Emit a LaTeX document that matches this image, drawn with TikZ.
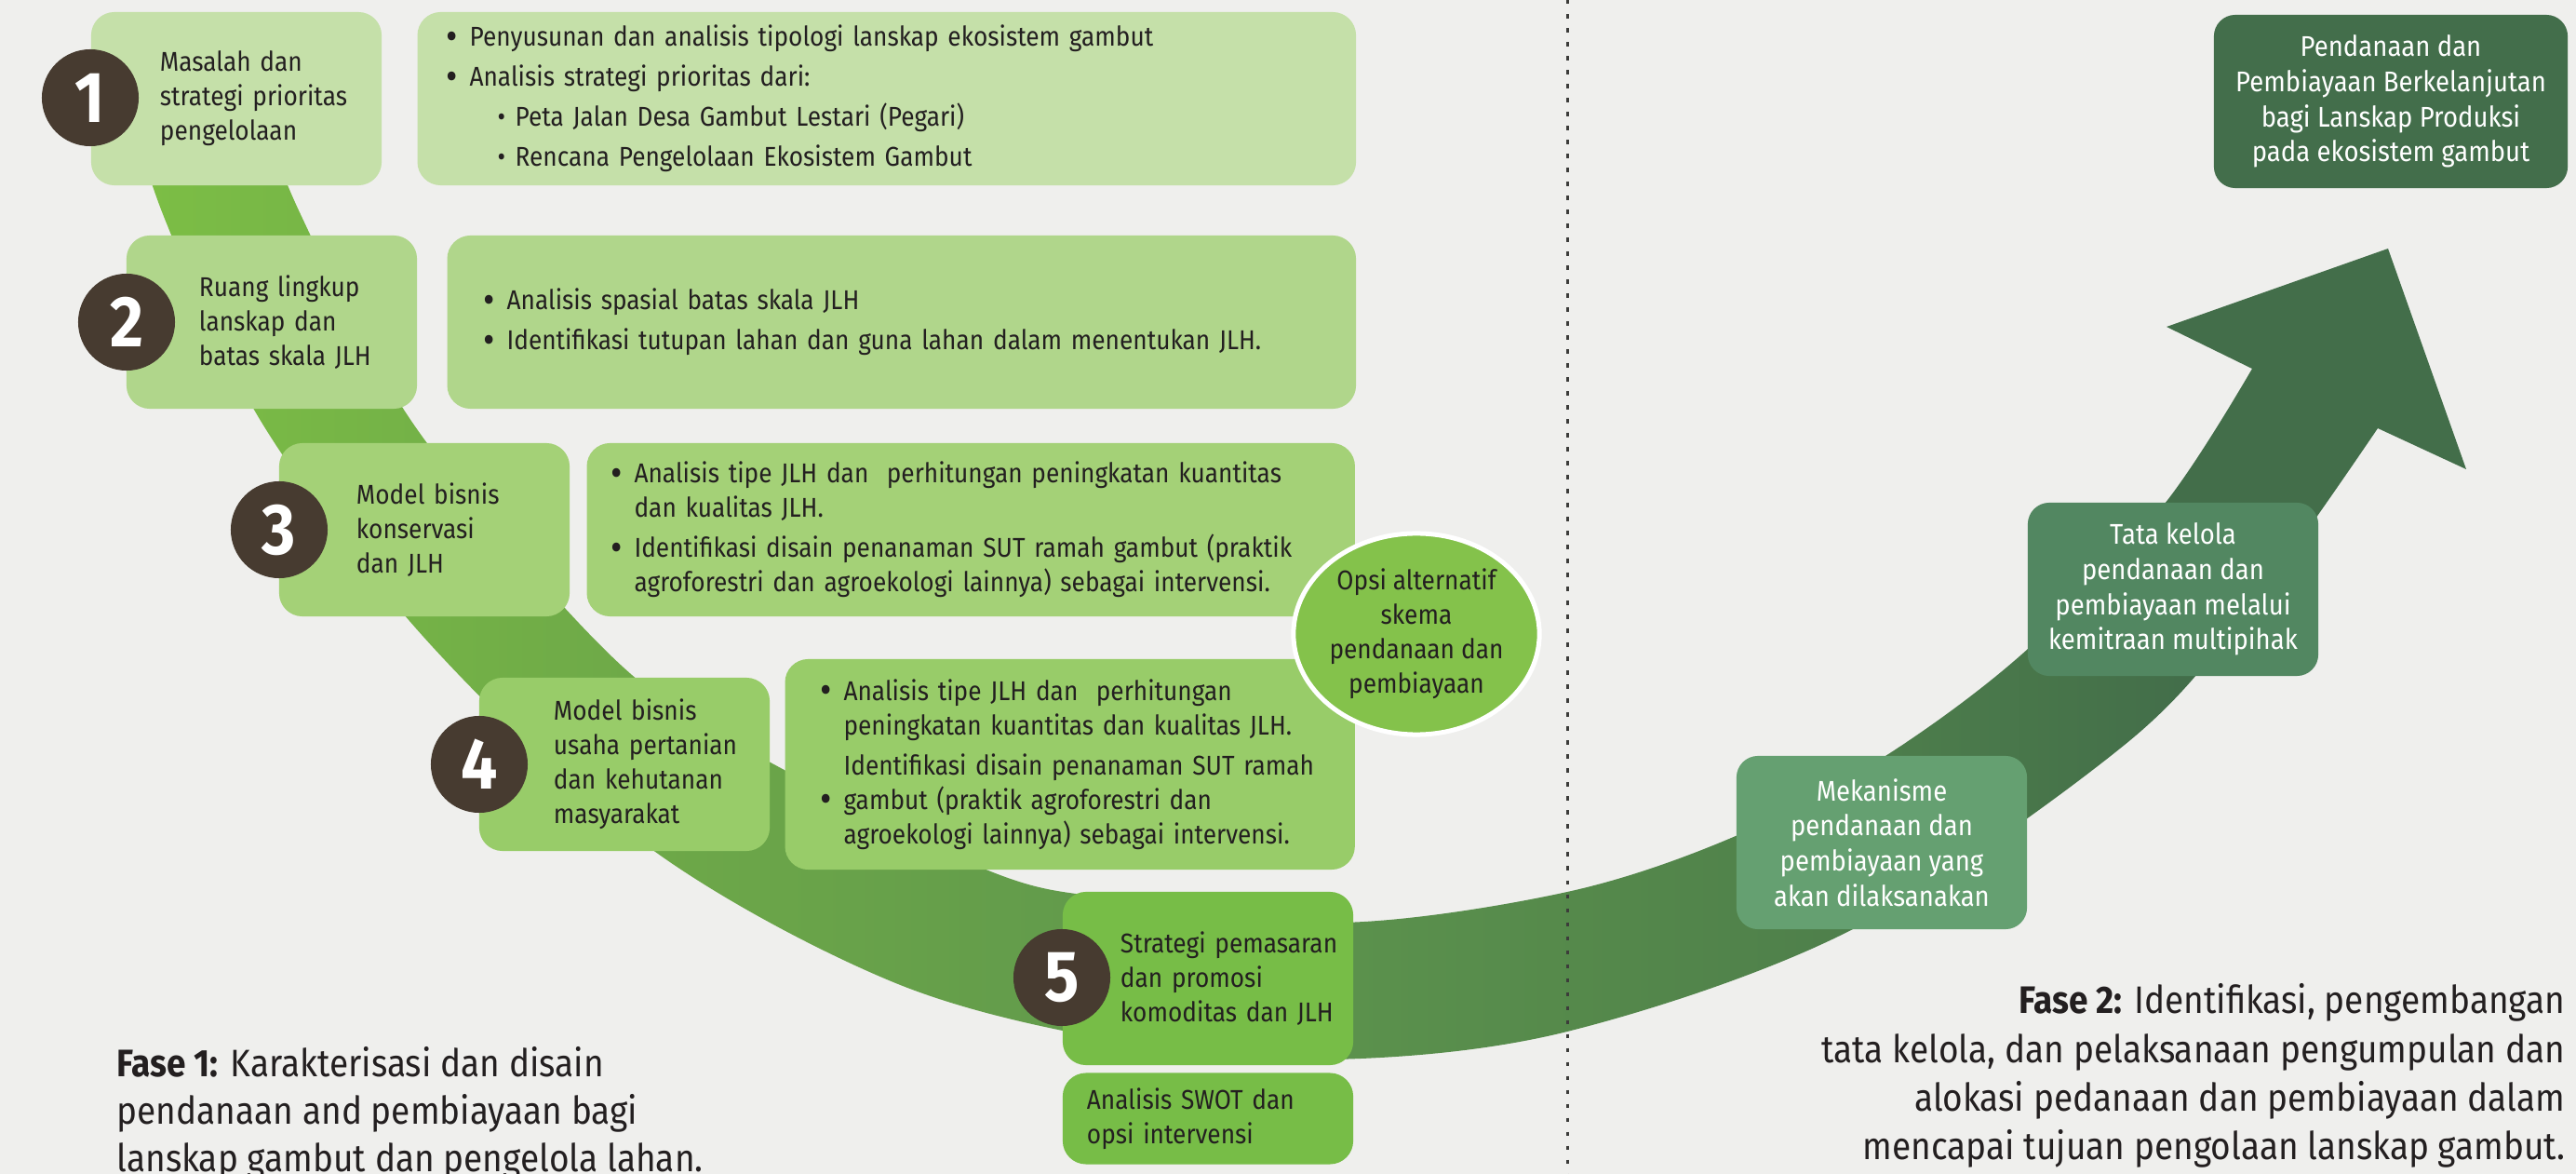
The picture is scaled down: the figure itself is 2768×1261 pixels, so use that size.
\documentclass[tikz,border=0pt]{standalone}
\usepackage{fontspec}
\setmainfont{Fira Sans}[FakeStretch=0.9]
\usepackage{xcolor}
\usepackage{graphicx}
\usepackage{tikz}
\usetikzlibrary{positioning, shapes.geometric}

\definecolor{bgpaper}{HTML}{EFEFED}
\definecolor{ink}{HTML}{231F20}
\definecolor{numbrown}{HTML}{473B30}
\definecolor{stepA}{HTML}{C5E0A9}
\definecolor{stepB}{HTML}{B0D68B}
\definecolor{stepC}{HTML}{A4D177}
\definecolor{stepD}{HTML}{98CC69}
\definecolor{stepE}{HTML}{77BD47}
\definecolor{optgreen}{HTML}{84C24B}
\definecolor{fundA}{HTML}{65A071}
\definecolor{fundB}{HTML}{528761}
\definecolor{fundC}{HTML}{436E4B}
\definecolor{bandA}{HTML}{7DBF45}
\definecolor{bandB}{HTML}{6EA948}
\definecolor{bandC}{HTML}{5F974C}
\definecolor{bandD}{HTML}{4E7F4B}
\definecolor{bandE}{HTML}{436E4A}
\definecolor{divgray}{HTML}{3C3C3A}

\pgfdeclarehorizontalshading{bandfade}{100bp}{color(0bp)=(bandA); color(25bp)=(bandA); color(36bp)=(bandB); color(48bp)=(bandC); color(62bp)=(bandD); color(69bp)=(bandE); color(100bp)=(bandE)}

\newcommand{\dotitem}{\leavevmode\llap{\makebox[0.25cm][l]{\raisebox{-0.12em}{\scalebox{1.45}{\textbullet}}}}}
\newcommand{\dotsub}{\leavevmode\hspace*{0.49cm}\llap{\makebox[0.19cm][l]{\textbullet}}}

\tikzset{
  stage/.style={rectangle, fill=#1, rounded corners=0.25cm, text width=3.12cm, minimum height=1.86cm, inner xsep=0pt, align=left, text=ink, font=\fontsize{8.3}{10.5}\selectfont},
  detail/.style 2 args={rectangle, fill=#1, rounded corners=0.25cm, text width=#2, minimum height=1.86cm, inner xsep=0pt, align=left, text=ink, font=\fontsize{8.3}{10.5}\selectfont},
  badge/.style={circle, fill=numbrown, minimum size=1.04cm, inner sep=0pt, text=white, font=\fontsize{22}{22}\selectfont\bfseries},
  altopt/.style={ellipse, fill=optgreen, draw=white, line width=0.05cm, minimum width=2.58cm, minimum height=2.16cm, inner sep=0pt, align=center, text=ink, font=\fontsize{8.3}{10.5}\selectfont},
  fund/.style={rectangle, fill=#1, rounded corners=0.23cm, minimum width=3.12cm, minimum height=1.86cm, align=center, text=white, font=\fontsize{8.7}{10.7}\selectfont},
  phase/.style={inner sep=0pt, text=ink, font=\fontsize{11.7}{#1}\selectfont},
  divider/.style={draw=divgray, line width=0.03cm, dash pattern=on 0.045cm off 0.105cm},
}

\begin{document}
\begin{tikzpicture}[x=0.01cm, y=-0.01cm, node distance=0.37cm]
  \fill[bgpaper] (0,0) rectangle (2768,1261);
  \useasboundingbox (0,0) rectangle (2768,1261);

  \shade[shading=bandfade] plot[smooth, tension=0.55] coordinates {(118,40) (175,230) (285,460) (465,695) (700,912) (960,1055) (1200,1118) (1430,1138) (1684,1108) (1991,998) (2283,800) (2420,650) (2555,460)}
    -- (2650,504) -- (2566,267) -- (2328,351)
    -- plot[smooth, tension=0.55] coordinates {(2420,396) (2326,541) (2179,697) (2026,812) (1865,898) (1684,958) (1440,991) (1200,966) (1057,933) (785,795) (647,695) (446,458) (321,226) (250,40)} -- cycle;

  \coordinate (divtop) at (1684,0);
  \coordinate (divbot) at (1684,1261);
  \draw[divider] (divtop) -- (divbot);

  \node[stage=stepA] (lab1) at (254,106) {\leftskip=0.74cm Masalah dan\\strategi prioritas\\pengelolaan\par};
  \node[detail={stepA}{10.08cm}, right=0.37cm of lab1] (det1) {\leftskip=0.56cm \dotitem Penyusunan dan analisis tipologi lanskap ekosistem gambut\\[1.7pt]\dotitem Analisis strategi prioritas dari:\\[1.7pt]\dotsub Peta Jalan Desa Gambut Lestari (Pegari)\\[1.7pt]\dotsub Rencana Pengelolaan Ekosistem Gambut\par};

  \node[stage=stepB] (lab2) at (292,346) {\leftskip=0.78cm Ruang lingkup\\lanskap dan\\batas skala JLH\par};
  \node[detail={stepB}{9.76cm}, right=0.31cm of lab2] (det2) {\leftskip=0.64cm \dotitem Analisis spasial batas skala JLH\\[1.7pt]\dotitem Identifikasi tutupan lahan dan guna lahan dalam menentukan JLH.\par};

  \node[stage=stepC] (lab3) at (456,569) {\leftskip=0.83cm Model bisnis\\konservasi\\dan JLH\par};
  \node[detail={stepC}{8.25cm}, right=0.17cm of lab3] (det3) {\leftskip=0.51cm \dotitem Analisis tipe JLH dan~ perhitungan peningkatan kuantitas\\dan kualitas JLH.\\[1.7pt]\dotitem Identifikasi disain penanaman SUT ramah gambut (praktik\\agroforestri dan agroekologi lainnya) sebagai intervensi.\par};

  \node[stage=stepD] (lab4) at (671,821) {\leftskip=0.80cm Model bisnis\\usaha pertanian\\dan kehutanan\\masyarakat\par};
  \node[detail={stepD}{6.12cm}, minimum height=2.26cm, right=0.15cm of lab4] (det4) {\leftskip=0.63cm \dotitem Analisis tipe JLH dan~ perhitungan\\peningkatan kuantitas dan kualitas JLH.\\[1.7pt]Identifikasi disain penanaman SUT ramah\\\dotitem gambut (praktik agroforestri dan\\agroekologi lainnya) sebagai intervensi.\par};

  \node[stage=stepE] (lab5) at (1298,1051) {\leftskip=0.62cm Strategi pemasaran\\dan promosi\\komoditas dan JLH\par};
  \node[stage=stepE, minimum height=0.98cm, below=0.07cm of lab5] (swot) {\leftskip=0.26cm Analisis SWOT dan\\opsi intervensi\par};

  \node[altopt] (opsi) at (1522,681) {Opsi alternatif\\skema\\pendanaan dan\\pembiayaan};

  \node[badge] (num1) at (97,105) {1};
  \node[badge] (num2) at (136,346) {2};
  \node[badge] (num3) at (300,569) {3};
  \node[badge] (num4) at (515,821) {4};
  \node[badge] (num5) at (1141,1050) {5};

  \node[fund=fundA] (meka) at (2022,905) {Mekanisme\\pendanaan dan\\pembiayaan yang\\akan dilaksanakan};
  \node[fund=fundB] (tata) at (2335,633) {Tata kelola\\pendanaan dan\\pembiayaan melalui\\kemitraan multipihak};
  \node[fund=fundC, minimum width=3.8cm] (goal) at (2569,109) {Pendanaan dan\\Pembiayaan Berkelanjutan\\bagi Lanskap Produksi\\pada ekosistem gambut};

  \node[phase=14.4pt, align=left, anchor=north west] (fase1) at (125,1124) {\textbf{Fase 1:} Karakterisasi dan disain\\pendanaan and pembiayaan bagi\\lanskap gambut dan pengelola lahan.};
  \node[phase=14.9pt, align=right, anchor=north east] (fase2) at (2757,1056) {\textbf{Fase 2:} Identifikasi, pengembangan\\tata kelola, dan pelaksanaan pengumpulan dan\\alokasi pedanaan dan pembiayaan dalam\\mencapai tujuan pengolaan lanskap gambut.};
\end{tikzpicture}
\end{document}
